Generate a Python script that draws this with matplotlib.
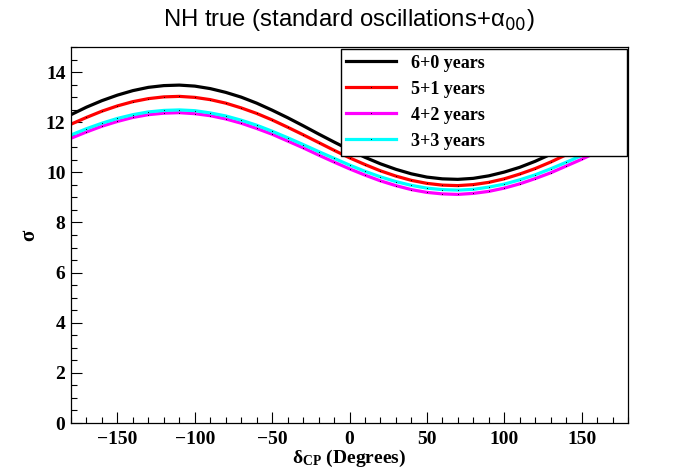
import numpy as np
import matplotlib
matplotlib.use('Agg')
import matplotlib.pyplot as plt
from matplotlib.ticker import MultipleLocator

plt.rcParams['font.family'] = ['Liberation Serif', 'DejaVu Serif']
plt.rcParams['mathtext.fontset'] = 'custom'
plt.rcParams['mathtext.rm'] = 'Liberation Serif'
plt.rcParams['mathtext.bf'] = 'Liberation Serif:bold'
plt.rcParams['mathtext.it'] = 'Liberation Serif:italic'

# delta_CP grid (degrees)
dcp = list(range(-180, 181, 10))

# sensitivity (sigma)
sig_6_0 = [12.30, 12.60, 12.86, 13.08, 13.26, 13.39, 13.46, 13.48, 13.44, 13.34,
           13.19, 13.00, 12.76, 12.48, 12.18, 11.86, 11.53, 11.21, 10.90, 10.60,
           10.34, 10.12, 9.94, 9.81, 9.74, 9.72, 9.76, 9.86, 10.01, 10.20,
           10.44, 10.72, 11.02, 11.34, 11.67, 11.99, 12.30]
sig_5_1 = [11.92, 12.19, 12.44, 12.65, 12.82, 12.94, 13.01, 13.03, 12.99, 12.90,
           12.76, 12.57, 12.35, 12.09, 11.80, 11.50, 11.19, 10.88, 10.58, 10.31,
           10.06, 9.85, 9.68, 9.56, 9.49, 9.47, 9.51, 9.60, 9.74, 9.93,
           10.15, 10.41, 10.70, 11.00, 11.31, 11.62, 11.92]
sig_4_2 = [11.36, 11.61, 11.84, 12.03, 12.19, 12.30, 12.36, 12.38, 12.34, 12.26,
           12.13, 11.96, 11.75, 11.52, 11.25, 10.98, 10.69, 10.41, 10.14, 9.89,
           9.66, 9.47, 9.31, 9.20, 9.14, 9.12, 9.16, 9.24, 9.37, 9.54,
           9.75, 9.98, 10.25, 10.52, 10.81, 11.09, 11.36]
sig_3_3 = [11.49, 11.74, 11.96, 12.15, 12.30, 12.41, 12.47, 12.49, 12.46, 12.37,
           12.25, 12.08, 11.88, 11.64, 11.38, 11.11, 10.83, 10.56, 10.29, 10.04,
           9.82, 9.63, 9.48, 9.37, 9.31, 9.29, 9.32, 9.41, 9.53, 9.70,
           9.90, 10.14, 10.40, 10.67, 10.95, 11.22, 11.49]

series = [(sig_6_0, 'black', '6+0 years'),
          (sig_5_1, 'red', '5+1 years'),
          (sig_4_2, 'magenta', '4+2 years'),
          (sig_3_3, 'cyan', '3+3 years')]

fig = plt.figure(figsize=(6.98, 4.71), dpi=100)
ax = fig.add_axes([71/698, 48/471, 557/698, 376/471])

for vals, col, lab in series:
    ax.plot(dcp, vals, color=col, lw=2.3, label=lab,
            marker='.', ms=1.5, mfc='black', mec='none')

ax.set_xlim(-180, 180)
ax.set_ylim(0, 15)
ax.xaxis.set_major_locator(MultipleLocator(50))
ax.xaxis.set_minor_locator(MultipleLocator(10))
ax.yaxis.set_major_locator(MultipleLocator(2))
ax.yaxis.set_minor_locator(MultipleLocator(0.5))
ax.tick_params(which='both', direction='in', width=0.8, labelsize=14)
ax.tick_params(which='major', length=8)
ax.tick_params(which='minor', length=4)
ax.tick_params(axis='x', pad=6)
ax.tick_params(axis='y', pad=4)
for lbl in ax.get_xticklabels() + ax.get_yticklabels():
    lbl.set_fontweight('bold')
for sp in ax.spines.values():
    sp.set_linewidth(0.9)

ax.set_xlabel(r'δ$_{\mathbf{CP}}$ (Degrees)', fontsize=14, fontweight='bold', labelpad=0)
ax.set_ylabel('σ', fontsize=15, fontweight='bold', labelpad=5, rotation=90)

fig.text(0.5, 1 - 20/471, r'NH true (standard oscillations+α$_{00}$)',
         family='Liberation Sans', fontsize=17.2, ha='center', va='center',
         math_fontfamily='dejavusans')

leg = ax.legend(loc='upper left', bbox_to_anchor=(0.484, 0.716, 0.515, 0.279),
                mode='expand', borderaxespad=0, fancybox=False, framealpha=1,
                edgecolor='black', prop={'family': 'Liberation Serif', 'weight': 'bold', 'size': 13},
                handlelength=2.75, handletextpad=0.85, labelspacing=0.5,
                borderpad=0.32, numpoints=1)
leg.get_frame().set_linewidth(1.0)

fig.savefig('out.png', dpi=100)
